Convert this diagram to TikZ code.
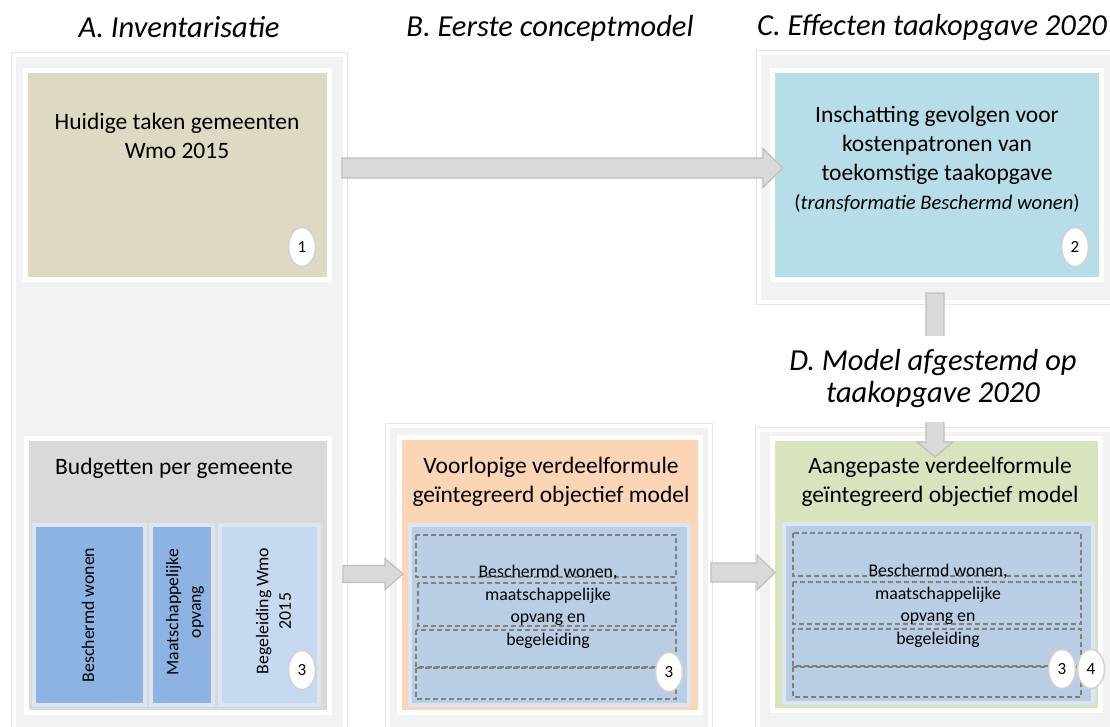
\documentclass[tikz,border=0pt]{standalone}
\usepackage{fontspec}
\setmainfont{Carlito}
\usetikzlibrary{positioning,calc,shadows,shapes.geometric}

\definecolor{panelgray}{HTML}{F2F2F2}
\definecolor{beige}{HTML}{DDD9C3}
\definecolor{skyblue}{HTML}{B7DDE8}
\definecolor{boxgray}{HTML}{D9D9D9}
\definecolor{midblue}{HTML}{8DB3E2}
\definecolor{paleblue}{HTML}{C6D9F1}
\definecolor{rimblue}{HTML}{DCE6F2}
\definecolor{peach}{HTML}{FBD5B5}
\definecolor{sage}{HTML}{D7E4BD}
\definecolor{steelblue}{HTML}{B9CDE5}
\definecolor{arrowfill}{HTML}{D9D9D9}
\definecolor{arrowline}{HTML}{BFBFBF}

\tikzset{
  panel/.style={rectangle, fill=panelgray, draw=white, line width=4pt,
    preaction={draw=black!10, line width=6pt}, inner sep=0pt, outer sep=0pt},
  bigbox/.style={rectangle, draw=white, line width=5pt, inner sep=0pt, outer sep=0pt,
    drop shadow={opacity=0.35, shadow xshift=1pt, shadow yshift=-2.5pt}},
  subbox/.style={rectangle, draw=rimblue, line width=4pt, inner sep=0pt, outer sep=0pt,
    drop shadow={opacity=0.3, shadow xshift=1pt, shadow yshift=-2pt}},
  slot/.style={draw=black!50, dash pattern=on 5pt off 3pt, line width=1.2pt},
  badge/.style={ellipse, fill=white, draw=black!18, line width=1.5pt, inner sep=0pt,
    minimum width=27pt, minimum height=39pt, font=\fontsize{17}{18}\selectfont},
  coltitle/.style={inner sep=0pt, align=center, font=\fontsize{30.5}{32}\selectfont\itshape},
  boxtext/.style={inner sep=0pt, align=center, font=\fontsize{23.5}{29}\selectfont},
  smalltext/.style={inner sep=0pt, align=center, font=\fontsize{17.8}{22.5}\selectfont},
  blockarrow/.style={fill=arrowfill, draw=arrowline, line width=1.2pt, line join=miter}
}

\begin{document}
\begin{tikzpicture}[x=1pt, y=-1pt]
  \useasboundingbox (0,0) rectangle (1110,726);
  \clip (0,0) rectangle (1110,726);

  % kolomtitels
  \node[coltitle, anchor=base] (titleA) at (179,37) {A. Inventarisatie};
  \node[coltitle, anchor=base] (titleB) at (550,36) {B. Eerste conceptmodel};
  \node[coltitle, anchor=base east] (titleC) at (1107,35) {C. Effecten taakopgave 2020};

  % panelen
  \node[panel, minimum width=331pt, minimum height=685pt] (panelA) at (179.5,397.5) {};
  \node[panel, minimum width=361pt, minimum height=249pt] (panelC) at (939.5,177.5) {};
  \node[panel, minimum width=322pt, minimum height=314pt] (panelB) at (549,583) {};
  \node[panel, minimum width=362pt, minimum height=310pt] (panelD) at (939,585) {};

  % A: huidige taken
  \node[bigbox, fill=beige, minimum width=304pt, minimum height=209pt] (tasks) at (177.5,175) {};
  \node[boxtext] (tasks-text) at (177,136) {Huidige taken gemeenten\\Wmo 2015};
  \node[badge] (badge1) at (302,247) {1};

  % C: effecten
  \node[bigbox, fill=skyblue, minimum width=329pt, minimum height=209pt] (effects) at (937,175) {};
  \node[boxtext] (effects-text) at (937,159)
    {Inschatting gevolgen voor\\kostenpatronen van\\toekomstige taakopgave\\
     {\fontsize{20.6}{29}\selectfont(\textit{transformatie Beschermd wonen})}};
  \node[badge] (badge2) at (1075,247) {2};

  % A: budgetten
  \node[bigbox, fill=boxgray, minimum width=303pt, minimum height=274pt] (budget) at (178,575.5) {};
  \node[boxtext] (budget-text) at (174,468) {Budgetten per gemeente};
  \node[subbox, fill=midblue, minimum width=111pt, minimum height=180pt] (bw) at (89.5,615) {};
  \node[subbox, fill=midblue, minimum width=62pt, minimum height=180pt] (mo) at (182,615) {};
  \node[subbox, fill=paleblue, minimum width=99pt, minimum height=180pt] (bg) at (269.5,615) {};
  \node[smalltext, rotate=90] (bw-text) at (88,615) {Beschermd wonen};
  \node[smalltext, rotate=90] (mo-text) at (185,612) {Maatschappelijke\\opvang};
  \node[smalltext, rotate=90] (bg-text) at (273.5,611) {Begeleiding Wmo\\2015};
  \node[badge] (badge3a) at (302,670) {3};

  % B: voorlopige verdeelformule
  \node[bigbox, fill=peach, minimum width=301pt, minimum height=275pt] (draft) at (550,575) {};
  \node[boxtext] (draft-text) at (551,482) {Voorlopige verdeelformule\\geïntegreerd objectief model};
  \node[subbox, fill=steelblue, minimum width=279pt, minimum height=180pt] (draft-in) at (549.5,615) {};
  \draw[slot] (416,535) rectangle (676,577);
  \draw[slot] (418,583) rectangle (676,626);
  \draw[slot] (416,630) rectangle (676,667);
  \draw[slot] (416,668) rectangle (676,699);
  \node[smalltext] (draft-in-text) at (548,607)
    {Beschermd wonen,\\maatschappelijke\\opvang en\\begeleiding};
  \node[badge] (badge3b) at (669,672) {3};

  % D: aangepaste verdeelformule
  \node[bigbox, fill=sage, minimum width=328pt, minimum height=272pt] (final) at (936.5,574.5) {};
  \node[boxtext] (final-text) at (940,482) {Aangepaste verdeelformule\\geïntegreerd objectief model};
  \node[subbox, fill=steelblue, minimum width=309pt, minimum height=179pt] (final-in) at (938.5,613.5) {};
  \draw[slot] (793,533) rectangle (1081,576);
  \draw[slot] (793,582) rectangle (1081,624);
  \draw[slot] (793,629) rectangle (1081,666);
  \draw[slot] (793,667) rectangle (1081,697);
  \node[smalltext] (final-in-text) at (938,606)
    {Beschermd wonen,\\maatschappelijke\\opvang en\\begeleiding};
  \node[badge] (badge3c) at (1062,669) {3};
  \node[badge] (badge4) at (1091,669) {4};

  % pijlen
  \coordinate (topfrom) at ($(tasks.east)+(12.5,-7)$);
  \coordinate (topto) at ($(effects.west)+(10.5,-7)$);
  \draw[blockarrow] ($(topfrom)+(0,-10)$) -- ($(topto)+(-20,-10)$) -- ($(topto)+(-20,-19.5)$)
    -- (topto) -- ($(topto)+(-20,19.5)$) -- ($(topto)+(-20,10)$) -- ($(topfrom)+(0,10)$) -- cycle;

  \coordinate (lowfrom) at ($(budget.east)+(13.5,-1.5)$);
  \coordinate (lowto) at ($(draft.west)+(3.5,-1)$);
  \draw[blockarrow] ($(lowfrom)+(0,-8.5)$) -- ($(lowto)+(-18,-8.5)$) -- ($(lowto)+(-18,-15.5)$)
    -- (lowto) -- ($(lowto)+(-18,15.5)$) -- ($(lowto)+(-18,8.5)$) -- ($(lowfrom)+(0,8.5)$) -- cycle;

  \coordinate (midfrom) at ($(draft.east)+(10.5,-2.5)$);
  \coordinate (midto) at ($(final.west)+(2.5,-2)$);
  \draw[blockarrow] ($(midfrom)+(0,-9.5)$) -- ($(midto)+(-18,-9.5)$) -- ($(midto)+(-18,-17.5)$)
    -- (midto) -- ($(midto)+(-18,17.5)$) -- ($(midto)+(-18,9.5)$) -- ($(midfrom)+(0,9.5)$) -- cycle;

  \coordinate (downfrom) at ($(effects.south)+(-2,13.5)$);
  \coordinate (downto) at ($(final.north)+(-1.5,18.5)$);
  \draw[blockarrow] ($(downfrom)+(-9,0)$) -- ($(downto)+(-9,-15)$) -- ($(downto)+(-18,-15)$)
    -- (downto) -- ($(downto)+(18,-15)$) -- ($(downto)+(9,-15)$) -- ($(downfrom)+(9,0)$) -- cycle;

  % titel D over de pijl
  \node[coltitle, fill=white, minimum width=300pt, minimum height=86pt] (titleD) at (933,378.5)
    {D. Model afgestemd op\\taakopgave 2020};
\end{tikzpicture}
\end{document}
